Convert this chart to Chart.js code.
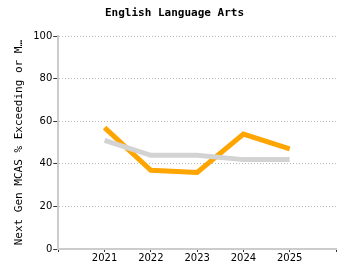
<!DOCTYPE html>
<html lang="en">
<head>
  <meta charset="UTF-8" />
  <title>English Language Arts</title>
  <script src="https://cdn.jsdelivr.net/npm/chart.js"></script>
  <style>
    html, body { margin: 0; padding: 0; background: #fff; }
    #wrap { width: 350px; height: 280px; }
  </style>
</head>
<body>
  <div id="wrap"><canvas id="chart" width="350" height="280"></canvas></div>
  <script>
    // data
    const years = ["", "2021", "2022", "2023", "2024", "2025", ""];
    const stateValues = [null, 51, 44, 44, 42, 42, null];
    const schoolValues = [null, 57, 37, 36, 54, 47, null];
    const yTicks = [0, 20, 40, 60, 80, 100];

    const ctx = document.getElementById("chart").getContext("2d");
    new Chart(ctx, {
      type: "line",
      data: {
        labels: years,
        datasets: [
          { label: "State", data: stateValues, borderColor: "#d3d3d3", borderWidth: 5, pointRadius: 0, fill: false, tension: 0 },
          { label: "School", data: schoolValues, borderColor: "#ffa500", borderWidth: 5, pointRadius: 0, fill: false, tension: 0 }
        ]
      },
      options: {
        responsive: false,
        animation: false,
        layout: { padding: { left: 13, right: 14, top: 1, bottom: 16 } },
        plugins: {
          legend: { display: false },
          tooltip: { enabled: false },
          title: {
            display: true,
            text: "English Language Arts",
            color: "#000",
            font: { family: "DejaVu Sans Mono", size: 11, weight: "bold" },
            padding: { top: 6, bottom: 16 }
          }
        },
        scales: {
          x: {
            offset: false,
            grid: { drawOnChartArea: false, drawTicks: true, tickLength: 3, tickColor: "#333" },
            border: { color: "#ccc", width: 2 },
            ticks: { color: "#000", font: { family: "DejaVu Sans", size: 10 }, maxRotation: 0, autoSkip: false, padding: 0 }
          },
          y: {
            min: 0,
            max: 100,
            afterBuildTicks: axis => { axis.ticks = yTicks.map(v => ({ value: v })); },
            grid: { color: "#bbb", tickColor: "#333", tickLength: 5, lineWidth: 1 },
            border: { color: "#ccc", width: 2, dash: [1, 2] },
            ticks: { color: "#000", font: { family: "DejaVu Sans", size: 10 }, padding: 1 },
            title: {
              display: true,
              text: "Next Gen MCAS % Exceeding or M…",
              color: "#000",
              font: { family: "DejaVu Sans Mono", size: 11 },
              padding: { top: 0, bottom: 6 }
            }
          }
        }
      }
    });
  </script>
</body>
</html>
